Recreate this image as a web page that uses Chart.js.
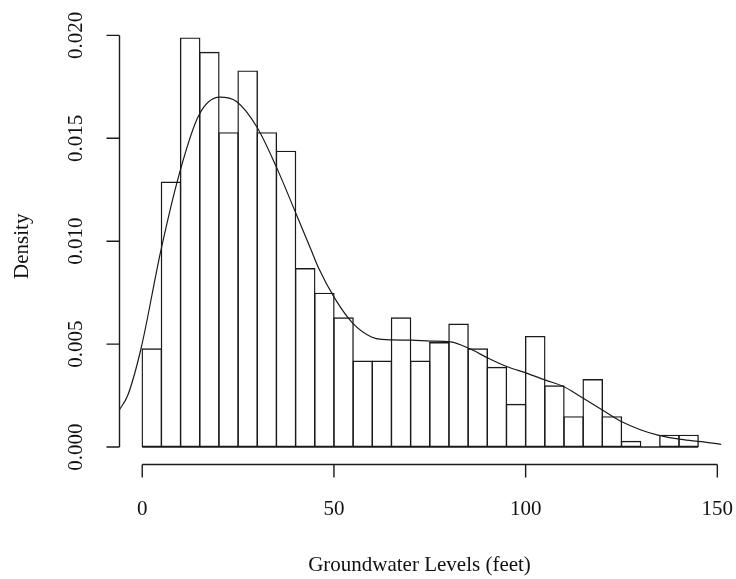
<!DOCTYPE html>
<html>
<head>
<meta charset="utf-8">
<script src="https://cdn.jsdelivr.net/npm/chart.js@4"></script>
<style>
  html, body { margin: 0; padding: 0; background: #fff; }
  canvas { display: block; }
</style>
</head>
<body>
<canvas id="c" width="736" height="579"></canvas>
<script>
// ---- data ----
const binStarts = [0,5,10,15,20,25,30,35,40,45,50,55,60,65,70,75,80,85,90,95,100,105,110,115,120,125,130,135,140];
const binWidth = 5;
const densities = [0.0048,0.0129,0.0199,0.0192,0.0153,0.0183,0.0153,0.0144,0.0087,0.0075,
                   0.0063,0.0042,0.0042,0.0063,0.0042,0.0051,0.0060,0.0048,0.0039,0.0021,
                   0.0054,0.0030,0.0015,0.0033,0.0015,0.0003,0,0.0006,0.0006];
const kdeX = [-6,-3.8,-0.3,4.8,9.7,14.7,20.2,24.5,29.9,35,40.2,44,46,50.3,55,59.8,62.5,70.3,75.1,80.4,85.6,90.4,95.2,100.4,105.2,110,114.4,120,125.1,130.1,134.5,140.6,145.8,151];
const kdeY = [0.0018,0.0025,0.0048,0.0095,0.0133,0.0161,0.0170,0.0168,0.01555,0.0136,0.0113,0.0096,0.0087,0.0072,0.0060,0.00535,0.00523,0.00519,0.00515,0.00511,0.00476,0.0043,0.0039,0.00358,0.00325,0.00293,0.00244,0.0018,0.00123,0.00083,0.00058,0.00037,0.00026,0.00013];
const xTicks = [0, 50, 100, 150];
const xTickLabels = ["0", "50", "100", "150"];
const yTicks = [0, 0.005, 0.010, 0.015, 0.020];
const yTickLabels = ["0.000", "0.005", "0.010", "0.015", "0.020"];
const xTitle = "Groundwater Levels (feet)";
const yTitle = "Density";

// ---- build ----
const barData = binStarts.map((s, i) => ({ x: s + binWidth / 2, y: densities[i] }));
const kdeData = kdeX.map((x, i) => ({ x: x, y: kdeY[i] }));
const baseData = [{ x: binStarts[0], y: 0 }, { x: binStarts[binStarts.length - 1] + binWidth, y: 0 }];

const FONT = '21px "Liberation Serif", "Times New Roman", serif';
const INK = '#1a1a1a';
const LW = 1.4;

const rAxes = {
  id: 'rAxes',
  afterDraw(chart) {
    const ctx = chart.ctx;
    const xs = chart.scales.x, ys = chart.scales.y;
    const ca = chart.chartArea;
    ctx.save();
    ctx.strokeStyle = INK;
    ctx.fillStyle = '#111';
    ctx.lineWidth = LW;
    ctx.font = FONT;
    // x axis
    const ay = Math.round(ca.bottom) + 0.5;
    ctx.beginPath();
    ctx.moveTo(xs.getPixelForValue(xTicks[0]), ay);
    ctx.lineTo(xs.getPixelForValue(xTicks[xTicks.length - 1]), ay);
    xTicks.forEach(t => {
      const px = xs.getPixelForValue(t);
      ctx.moveTo(px, ay);
      ctx.lineTo(px, ay + 13);
    });
    ctx.stroke();
    ctx.textAlign = 'center';
    ctx.textBaseline = 'alphabetic';
    xTicks.forEach((t, i) => {
      ctx.fillText(xTickLabels[i], xs.getPixelForValue(t), 515);
    });
    // y axis
    const ax = Math.round(ca.left) - 0.5;
    ctx.beginPath();
    ctx.moveTo(ax, ys.getPixelForValue(yTicks[0]));
    ctx.lineTo(ax, ys.getPixelForValue(yTicks[yTicks.length - 1]));
    yTicks.forEach(t => {
      const py = ys.getPixelForValue(t);
      ctx.moveTo(ax, py);
      ctx.lineTo(ax - 13, py);
    });
    ctx.stroke();
    yTicks.forEach((t, i) => {
      ctx.save();
      ctx.translate(82, ys.getPixelForValue(t));
      ctx.rotate(-Math.PI / 2);
      ctx.fillText(yTickLabels[i], 0, 0);
      ctx.restore();
    });
    // titles
    ctx.fillText(xTitle, (ca.left + ca.right) / 2 - 3, 571);
    ctx.save();
    ctx.translate(28, (ca.top + ca.bottom) / 2 + 4);
    ctx.rotate(-Math.PI / 2);
    ctx.fillText(yTitle, 0, 0);
    ctx.restore();
    ctx.restore();
  }
};

new Chart(document.getElementById('c'), {
  type: 'bar',
  data: {
    datasets: [
      {
        type: 'bar',
        data: barData,
        backgroundColor: 'rgba(0,0,0,0)',
        borderColor: INK,
        borderWidth: LW,
        borderSkipped: false,
        barPercentage: 1.073,
        categoryPercentage: 1.0,
        order: 2
      },
      {
        type: 'line',
        data: baseData,
        borderColor: INK,
        borderWidth: LW,
        pointRadius: 0,
        fill: false,
        order: 1
      },
      {
        type: 'line',
        data: kdeData,
        borderColor: INK,
        borderWidth: 1.2,
        pointRadius: 0,
        fill: false,
        cubicInterpolationMode: 'monotone',
        order: 0
      }
    ]
  },
  options: {
    responsive: false,
    animation: false,
    layout: { padding: { left: 120, right: 11, top: 21, bottom: 115.5 } },
    plugins: { legend: { display: false }, tooltip: { enabled: false } },
    scales: {
      x: { type: 'linear', display: false, min: -5.8, max: 152, offset: false },
      y: { type: 'linear', display: false, min: -0.0008, max: 0.0207 }
    }
  },
  plugins: [rAxes]
});
</script>
</body>
</html>
